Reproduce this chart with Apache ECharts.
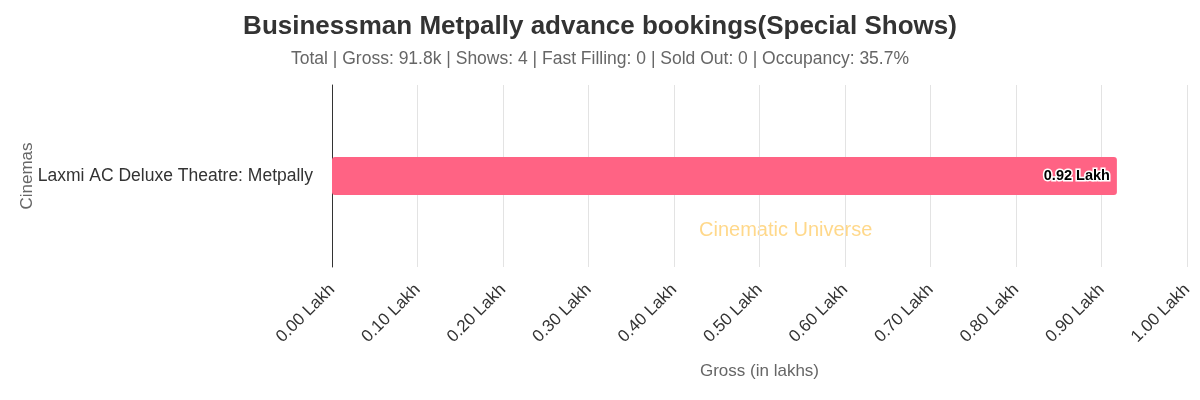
<!DOCTYPE html>
<html>
<head>
<meta charset="utf-8">
<script src="https://cdn.jsdelivr.net/npm/echarts@6/dist/echarts.min.js"></script>
<style>
  html, body { margin: 0; padding: 0; background: #fff; }
  #chart01 { width: 1200px; height: 400px; }
</style>
</head>
<body>
<div id="chart01"></div>
<script>
// data
var cinemas = ['Laxmi AC Deluxe Theatre: Metpally'];
var gross = [0.918];
var titleText = 'Businessman Metpally advance bookings(Special Shows)';
var subText = 'Total | Gross: 91.8k | Shows: 4 | Fast Filling: 0 | Sold Out: 0 | Occupancy: 35.7%';

var chartDom = document.getElementById('chart01');
var myChart = echarts.init(chartDom);
var option;

option = {
    animation: false,
    textStyle: { fontFamily: 'Liberation Sans, Arial, sans-serif' },
    title: {
      text: titleText,
      subtext: subText,
      left: 'center',
      top: 9,
      itemGap: 10,
      textStyle: { fontSize: 26, fontWeight: 'bold', color: '#333' },
      subtextStyle: { fontSize: 17.5, color: '#666' }
    },
    grid: {
      left: 332,
      right: 13,
      top: 85,
      bottom: 133
    },
    graphic: [
      {
        type: 'text',
        left: 699,
        top: 220,
        silent: true,
        style: {
          text: 'Cinematic Universe',
          fontSize: 20,
          fill: 'rgba(255, 190, 60, 0.6)',
          fontFamily: 'Liberation Sans, Arial, sans-serif'
        }
      }
    ],
    xAxis: {
      type: 'value',
      min: 0,
      max: 1,
      interval: 0.1,
      name: 'Gross (in lakhs)',
      nameLocation: 'middle',
      nameGap: 96,
      nameMoveOverlap: false,
      nameTextStyle: { fontSize: 17, color: '#666' },
      axisLine: { show: false },
      axisTick: { show: false },
      splitLine: { show: true, lineStyle: { color: '#e3e3e3', width: 1 } },
      axisLabel: {
        rotate: 45,
        fontSize: 17,
        color: '#333',
        margin: 20,
        formatter: function (v) { return v.toFixed(2) + ' Lakh'; }
      }
    },
    yAxis: {
      type: 'category',
      data: cinemas,
      name: 'Cinemas',
      nameLocation: 'middle',
      nameGap: 296,
      nameMoveOverlap: false,
      nameTextStyle: { fontSize: 17, color: '#666' },
      axisLine: { show: true, lineStyle: { color: '#333', width: 1 } },
      axisTick: { show: false },
      axisLabel: { fontSize: 17.5, color: '#333', margin: 19 }
    },
    series: [
      {
        type: 'bar',
        data: gross,
        barWidth: 38,
        itemStyle: { color: '#FF6384', borderRadius: 3 },
        label: {
          show: true,
          position: 'insideRight',
          offset: [-2, 0],
          formatter: function (p) { return p.value.toFixed(2) + ' Lakh'; },
          fontSize: 14.5,
          fontWeight: 'bold',
          color: '#000',
          textBorderColor: '#fff',
          textBorderWidth: 3
        }
      }
    ]
};

option && myChart.setOption(option);
</script>
</body>
</html>
